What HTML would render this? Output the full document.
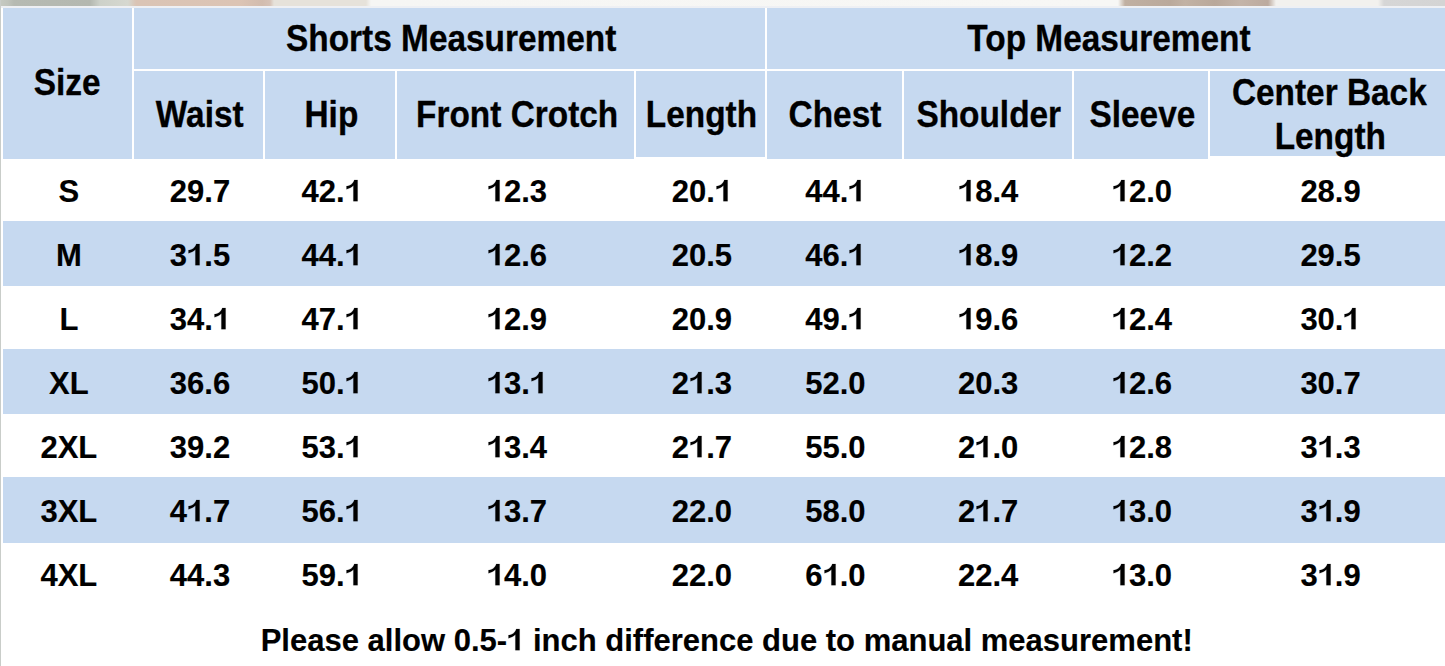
<!DOCTYPE html>
<html><head><meta charset="utf-8"><style>
html,body{margin:0;padding:0;}
body{position:relative;background:#fff;font-family:"Liberation Sans",sans-serif;font-weight:bold;color:#000;}
.r{position:absolute;}
.t{position:absolute;white-space:nowrap;line-height:1;}
.one{display:inline-block;width:0.55615em;height:0.73242em;vertical-align:baseline;fill:currentColor;overflow:visible;}
.bb,.bw{-webkit-text-stroke:0.15px #000;} .one path{stroke:#000;}
.hd{-webkit-text-stroke-width:0.3px;}
.one path{stroke-width:9.9;}
body{width:1445px;height:666px;overflow:hidden;}
.strip{position:absolute;left:0;top:0;width:1445px;height:6px;background:linear-gradient(90deg,#c6cac2 0px,#c0c4bc 8px,#b6bab2 14px,#b4b8b0 90px,#cdd1c9 100px,#d6d8d0 128px,#dac4b5 136px,#dcc4b4 240px,#d2bcae 262px,#d6c2b6 270px,#e6e2da 274px,#e6e2da 366px,#f6f6f4 371px,#f7f7f5 1118px,#c0b0a2 1125px,#baa99b 1170px,#c2b2a4 1185px,#b9a89a 1215px,#c4b4a8 1240px,#bcaa9e 1268px,#f2f1ee 1276px,#f2f1ee 1378px,#d6d6d6 1384px,#d4d4d4 1445px);}
.lft{position:absolute;left:0;top:0;width:1px;height:666px;background:#c9cdc9;}
#wrap{position:absolute;left:0;top:0;width:1445px;height:666px;overflow:hidden;background:#fff;}
</style></head><body><div id="wrap">
<div class="strip"></div>
<div class="r" style="left:0;top:6px;width:1445px;height:2px;background:#eef0f4"></div>
<div class="lft"></div>
<div class="r" style="left:3px;top:8px;width:129px;height:151px;background:#c6d9f0"></div>
<div class="r" style="left:134px;top:8px;width:631px;height:61px;background:#c6d9f0"></div>
<div class="r" style="left:767px;top:8px;width:678px;height:61px;background:#c6d9f0"></div>
<div class="r" style="left:134px;top:71px;width:129px;height:88px;background:#c6d9f0"></div>
<div class="r" style="left:265px;top:71px;width:130px;height:88px;background:#c6d9f0"></div>
<div class="r" style="left:397px;top:71px;width:237px;height:88px;background:#c6d9f0"></div>
<div class="r" style="left:636px;top:71px;width:129px;height:86px;background:#c6d9f0"></div>
<div class="r" style="left:767px;top:71px;width:135px;height:88px;background:#c6d9f0"></div>
<div class="r" style="left:904px;top:71px;width:168px;height:88px;background:#c6d9f0"></div>
<div class="r" style="left:1074px;top:71px;width:134px;height:88px;background:#c6d9f0"></div>
<div class="r" style="left:1210px;top:71px;width:235px;height:85px;background:#c6d9f0"></div>
<div class="r" style="left:3px;top:221px;width:1442px;height:65px;background:#c6d9f0"></div>
<div class="r" style="left:3px;top:349px;width:1442px;height:65px;background:#c6d9f0"></div>
<div class="r" style="left:3px;top:477px;width:1442px;height:66px;background:#c6d9f0"></div>
<div class="t bb hd" style="left:33.65px;top:66px;font-size:33.4px;transform:scaleY(1.09);transform-origin:33.5px 16.0px;">Size</div>
<div class="t bb hd" style="left:286.05px;top:22px;font-size:33.4px;transform:scaleY(1.09);transform-origin:165.5px 16.0px;">Shorts Measurement</div>
<div class="t bb hd" style="left:967.35px;top:22px;font-size:33.4px;transform:scaleY(1.09);transform-origin:141.5px 16.0px;">Top Measurement</div>
<div class="t bb hd" style="left:155.8px;top:98px;font-size:33.4px;transform:scaleY(1.09);transform-origin:44.0px 16.0px;">Waist</div>
<div class="t bb hd" style="left:304.5px;top:98px;font-size:33.4px;transform:scaleY(1.09);transform-origin:27.5px 16.0px;">Hip</div>
<div class="t bb hd" style="left:416.05px;top:98px;font-size:33.4px;transform:scaleY(1.09);transform-origin:101.0px 16.0px;">Front Crotch</div>
<div class="t bb hd" style="left:645.85px;top:98px;font-size:33.4px;transform:scaleY(1.09);transform-origin:55.5px 16.0px;">Length</div>
<div class="t bb hd" style="left:788.55px;top:98px;font-size:33.4px;transform:scaleY(1.09);transform-origin:47.0px 16.0px;">Chest</div>
<div class="t bb hd" style="left:916.4px;top:98px;font-size:33.4px;transform:scaleY(1.09);transform-origin:72.5px 16.0px;">Shoulder</div>
<div class="t bb hd" style="left:1089.5px;top:98px;font-size:33.4px;transform:scaleY(1.09);transform-origin:53.0px 16.0px;">Sleeve</div>
<div class="t bb hd" style="left:1231.9px;top:76px;font-size:33.4px;transform:scaleY(1.09);transform-origin:98.0px 16.0px;">Center Back</div>
<div class="t bb hd" style="left:1274.65px;top:120px;font-size:33.4px;transform:scaleY(1.09);transform-origin:55.5px 16.0px;">Length</div>
<div class="t bw" style="left:58.53px;top:176px;font-size:31px">S</div>
<div class="t bw" style="left:169.82px;top:176px;font-size:31px">29.7</div>
<div class="t bw" style="left:301.5px;top:176px;font-size:31px">42.<svg class="one" viewBox="0 0 1139 1500"><path transform="translate(0 1500) scale(1 -1)" d="M553 30L834 30L834 1440L612 1440C580 1330 520 1235 430 1160C340 1090 230 1050 100 1030L100 815C300 865 450 960 553 1065Z"/></svg></div>
<div class="t bw" style="left:486.75px;top:176px;font-size:31px"><svg class="one" viewBox="0 0 1139 1500"><path transform="translate(0 1500) scale(1 -1)" d="M553 30L834 30L834 1440L612 1440C580 1330 520 1235 430 1160C340 1090 230 1050 100 1030L100 815C300 865 450 960 553 1065Z"/></svg>2.3</div>
<div class="t bw" style="left:671.67px;top:176px;font-size:31px">20.<svg class="one" viewBox="0 0 1139 1500"><path transform="translate(0 1500) scale(1 -1)" d="M553 30L834 30L834 1440L612 1440C580 1330 520 1235 430 1160C340 1090 230 1050 100 1030L100 815C300 865 450 960 553 1065Z"/></svg></div>
<div class="t bw" style="left:805.25px;top:176px;font-size:31px">44.<svg class="one" viewBox="0 0 1139 1500"><path transform="translate(0 1500) scale(1 -1)" d="M553 30L834 30L834 1440L612 1440C580 1330 520 1235 430 1160C340 1090 230 1050 100 1030L100 815C300 865 450 960 553 1065Z"/></svg></div>
<div class="t bw" style="left:958.0px;top:176px;font-size:31px"><svg class="one" viewBox="0 0 1139 1500"><path transform="translate(0 1500) scale(1 -1)" d="M553 30L834 30L834 1440L612 1440C580 1330 520 1235 430 1160C340 1090 230 1050 100 1030L100 815C300 865 450 960 553 1065Z"/></svg>8.4</div>
<div class="t bw" style="left:1111.7px;top:176px;font-size:31px"><svg class="one" viewBox="0 0 1139 1500"><path transform="translate(0 1500) scale(1 -1)" d="M553 30L834 30L834 1440L612 1440C580 1330 520 1235 430 1160C340 1090 230 1050 100 1030L100 815C300 865 450 960 553 1065Z"/></svg>2.0</div>
<div class="t bw" style="left:1300.38px;top:176px;font-size:31px">28.9</div>
<div class="t bb" style="left:55.96px;top:240px;font-size:31px">M</div>
<div class="t bb" style="left:169.82px;top:240px;font-size:31px">3<svg class="one" viewBox="0 0 1139 1500"><path transform="translate(0 1500) scale(1 -1)" d="M553 30L834 30L834 1440L612 1440C580 1330 520 1235 430 1160C340 1090 230 1050 100 1030L100 815C300 865 450 960 553 1065Z"/></svg>.5</div>
<div class="t bb" style="left:301.5px;top:240px;font-size:31px">44.<svg class="one" viewBox="0 0 1139 1500"><path transform="translate(0 1500) scale(1 -1)" d="M553 30L834 30L834 1440L612 1440C580 1330 520 1235 430 1160C340 1090 230 1050 100 1030L100 815C300 865 450 960 553 1065Z"/></svg></div>
<div class="t bb" style="left:486.75px;top:240px;font-size:31px"><svg class="one" viewBox="0 0 1139 1500"><path transform="translate(0 1500) scale(1 -1)" d="M553 30L834 30L834 1440L612 1440C580 1330 520 1235 430 1160C340 1090 230 1050 100 1030L100 815C300 865 450 960 553 1065Z"/></svg>2.6</div>
<div class="t bb" style="left:671.67px;top:240px;font-size:31px">20.5</div>
<div class="t bb" style="left:805.25px;top:240px;font-size:31px">46.<svg class="one" viewBox="0 0 1139 1500"><path transform="translate(0 1500) scale(1 -1)" d="M553 30L834 30L834 1440L612 1440C580 1330 520 1235 430 1160C340 1090 230 1050 100 1030L100 815C300 865 450 960 553 1065Z"/></svg></div>
<div class="t bb" style="left:958.0px;top:240px;font-size:31px"><svg class="one" viewBox="0 0 1139 1500"><path transform="translate(0 1500) scale(1 -1)" d="M553 30L834 30L834 1440L612 1440C580 1330 520 1235 430 1160C340 1090 230 1050 100 1030L100 815C300 865 450 960 553 1065Z"/></svg>8.9</div>
<div class="t bb" style="left:1111.7px;top:240px;font-size:31px"><svg class="one" viewBox="0 0 1139 1500"><path transform="translate(0 1500) scale(1 -1)" d="M553 30L834 30L834 1440L612 1440C580 1330 520 1235 430 1160C340 1090 230 1050 100 1030L100 815C300 865 450 960 553 1065Z"/></svg>2.2</div>
<div class="t bb" style="left:1300.38px;top:240px;font-size:31px">29.5</div>
<div class="t bw" style="left:59.4px;top:304px;font-size:31px">L</div>
<div class="t bw" style="left:169.82px;top:304px;font-size:31px">34.<svg class="one" viewBox="0 0 1139 1500"><path transform="translate(0 1500) scale(1 -1)" d="M553 30L834 30L834 1440L612 1440C580 1330 520 1235 430 1160C340 1090 230 1050 100 1030L100 815C300 865 450 960 553 1065Z"/></svg></div>
<div class="t bw" style="left:301.5px;top:304px;font-size:31px">47.<svg class="one" viewBox="0 0 1139 1500"><path transform="translate(0 1500) scale(1 -1)" d="M553 30L834 30L834 1440L612 1440C580 1330 520 1235 430 1160C340 1090 230 1050 100 1030L100 815C300 865 450 960 553 1065Z"/></svg></div>
<div class="t bw" style="left:486.75px;top:304px;font-size:31px"><svg class="one" viewBox="0 0 1139 1500"><path transform="translate(0 1500) scale(1 -1)" d="M553 30L834 30L834 1440L612 1440C580 1330 520 1235 430 1160C340 1090 230 1050 100 1030L100 815C300 865 450 960 553 1065Z"/></svg>2.9</div>
<div class="t bw" style="left:671.67px;top:304px;font-size:31px">20.9</div>
<div class="t bw" style="left:805.25px;top:304px;font-size:31px">49.<svg class="one" viewBox="0 0 1139 1500"><path transform="translate(0 1500) scale(1 -1)" d="M553 30L834 30L834 1440L612 1440C580 1330 520 1235 430 1160C340 1090 230 1050 100 1030L100 815C300 865 450 960 553 1065Z"/></svg></div>
<div class="t bw" style="left:958.0px;top:304px;font-size:31px"><svg class="one" viewBox="0 0 1139 1500"><path transform="translate(0 1500) scale(1 -1)" d="M553 30L834 30L834 1440L612 1440C580 1330 520 1235 430 1160C340 1090 230 1050 100 1030L100 815C300 865 450 960 553 1065Z"/></svg>9.6</div>
<div class="t bw" style="left:1111.7px;top:304px;font-size:31px"><svg class="one" viewBox="0 0 1139 1500"><path transform="translate(0 1500) scale(1 -1)" d="M553 30L834 30L834 1440L612 1440C580 1330 520 1235 430 1160C340 1090 230 1050 100 1030L100 815C300 865 450 960 553 1065Z"/></svg>2.4</div>
<div class="t bw" style="left:1300.38px;top:304px;font-size:31px">30.<svg class="one" viewBox="0 0 1139 1500"><path transform="translate(0 1500) scale(1 -1)" d="M553 30L834 30L834 1440L612 1440C580 1330 520 1235 430 1160C340 1090 230 1050 100 1030L100 815C300 865 450 960 553 1065Z"/></svg></div>
<div class="t bb" style="left:49.06px;top:368px;font-size:31px">XL</div>
<div class="t bb" style="left:169.82px;top:368px;font-size:31px">36.6</div>
<div class="t bb" style="left:301.5px;top:368px;font-size:31px">50.<svg class="one" viewBox="0 0 1139 1500"><path transform="translate(0 1500) scale(1 -1)" d="M553 30L834 30L834 1440L612 1440C580 1330 520 1235 430 1160C340 1090 230 1050 100 1030L100 815C300 865 450 960 553 1065Z"/></svg></div>
<div class="t bb" style="left:486.76px;top:368px;font-size:31px"><svg class="one" viewBox="0 0 1139 1500"><path transform="translate(0 1500) scale(1 -1)" d="M553 30L834 30L834 1440L612 1440C580 1330 520 1235 430 1160C340 1090 230 1050 100 1030L100 815C300 865 450 960 553 1065Z"/></svg>3.<svg class="one" viewBox="0 0 1139 1500"><path transform="translate(0 1500) scale(1 -1)" d="M553 30L834 30L834 1440L612 1440C580 1330 520 1235 430 1160C340 1090 230 1050 100 1030L100 815C300 865 450 960 553 1065Z"/></svg></div>
<div class="t bb" style="left:671.67px;top:368px;font-size:31px">2<svg class="one" viewBox="0 0 1139 1500"><path transform="translate(0 1500) scale(1 -1)" d="M553 30L834 30L834 1440L612 1440C580 1330 520 1235 430 1160C340 1090 230 1050 100 1030L100 815C300 865 450 960 553 1065Z"/></svg>.3</div>
<div class="t bb" style="left:805.25px;top:368px;font-size:31px">52.0</div>
<div class="t bb" style="left:958.0px;top:368px;font-size:31px">20.3</div>
<div class="t bb" style="left:1111.7px;top:368px;font-size:31px"><svg class="one" viewBox="0 0 1139 1500"><path transform="translate(0 1500) scale(1 -1)" d="M553 30L834 30L834 1440L612 1440C580 1330 520 1235 430 1160C340 1090 230 1050 100 1030L100 815C300 865 450 960 553 1065Z"/></svg>2.6</div>
<div class="t bb" style="left:1300.38px;top:368px;font-size:31px">30.7</div>
<div class="t bw" style="left:40.44px;top:432px;font-size:31px">2XL</div>
<div class="t bw" style="left:169.82px;top:432px;font-size:31px">39.2</div>
<div class="t bw" style="left:301.5px;top:432px;font-size:31px">53.<svg class="one" viewBox="0 0 1139 1500"><path transform="translate(0 1500) scale(1 -1)" d="M553 30L834 30L834 1440L612 1440C580 1330 520 1235 430 1160C340 1090 230 1050 100 1030L100 815C300 865 450 960 553 1065Z"/></svg></div>
<div class="t bw" style="left:486.75px;top:432px;font-size:31px"><svg class="one" viewBox="0 0 1139 1500"><path transform="translate(0 1500) scale(1 -1)" d="M553 30L834 30L834 1440L612 1440C580 1330 520 1235 430 1160C340 1090 230 1050 100 1030L100 815C300 865 450 960 553 1065Z"/></svg>3.4</div>
<div class="t bw" style="left:671.67px;top:432px;font-size:31px">2<svg class="one" viewBox="0 0 1139 1500"><path transform="translate(0 1500) scale(1 -1)" d="M553 30L834 30L834 1440L612 1440C580 1330 520 1235 430 1160C340 1090 230 1050 100 1030L100 815C300 865 450 960 553 1065Z"/></svg>.7</div>
<div class="t bw" style="left:805.25px;top:432px;font-size:31px">55.0</div>
<div class="t bw" style="left:958.0px;top:432px;font-size:31px">2<svg class="one" viewBox="0 0 1139 1500"><path transform="translate(0 1500) scale(1 -1)" d="M553 30L834 30L834 1440L612 1440C580 1330 520 1235 430 1160C340 1090 230 1050 100 1030L100 815C300 865 450 960 553 1065Z"/></svg>.0</div>
<div class="t bw" style="left:1111.7px;top:432px;font-size:31px"><svg class="one" viewBox="0 0 1139 1500"><path transform="translate(0 1500) scale(1 -1)" d="M553 30L834 30L834 1440L612 1440C580 1330 520 1235 430 1160C340 1090 230 1050 100 1030L100 815C300 865 450 960 553 1065Z"/></svg>2.8</div>
<div class="t bw" style="left:1300.38px;top:432px;font-size:31px">3<svg class="one" viewBox="0 0 1139 1500"><path transform="translate(0 1500) scale(1 -1)" d="M553 30L834 30L834 1440L612 1440C580 1330 520 1235 430 1160C340 1090 230 1050 100 1030L100 815C300 865 450 960 553 1065Z"/></svg>.3</div>
<div class="t bb" style="left:40.44px;top:496px;font-size:31px">3XL</div>
<div class="t bb" style="left:169.82px;top:496px;font-size:31px">4<svg class="one" viewBox="0 0 1139 1500"><path transform="translate(0 1500) scale(1 -1)" d="M553 30L834 30L834 1440L612 1440C580 1330 520 1235 430 1160C340 1090 230 1050 100 1030L100 815C300 865 450 960 553 1065Z"/></svg>.7</div>
<div class="t bb" style="left:301.5px;top:496px;font-size:31px">56.<svg class="one" viewBox="0 0 1139 1500"><path transform="translate(0 1500) scale(1 -1)" d="M553 30L834 30L834 1440L612 1440C580 1330 520 1235 430 1160C340 1090 230 1050 100 1030L100 815C300 865 450 960 553 1065Z"/></svg></div>
<div class="t bb" style="left:486.75px;top:496px;font-size:31px"><svg class="one" viewBox="0 0 1139 1500"><path transform="translate(0 1500) scale(1 -1)" d="M553 30L834 30L834 1440L612 1440C580 1330 520 1235 430 1160C340 1090 230 1050 100 1030L100 815C300 865 450 960 553 1065Z"/></svg>3.7</div>
<div class="t bb" style="left:671.67px;top:496px;font-size:31px">22.0</div>
<div class="t bb" style="left:805.25px;top:496px;font-size:31px">58.0</div>
<div class="t bb" style="left:958.0px;top:496px;font-size:31px">2<svg class="one" viewBox="0 0 1139 1500"><path transform="translate(0 1500) scale(1 -1)" d="M553 30L834 30L834 1440L612 1440C580 1330 520 1235 430 1160C340 1090 230 1050 100 1030L100 815C300 865 450 960 553 1065Z"/></svg>.7</div>
<div class="t bb" style="left:1111.7px;top:496px;font-size:31px"><svg class="one" viewBox="0 0 1139 1500"><path transform="translate(0 1500) scale(1 -1)" d="M553 30L834 30L834 1440L612 1440C580 1330 520 1235 430 1160C340 1090 230 1050 100 1030L100 815C300 865 450 960 553 1065Z"/></svg>3.0</div>
<div class="t bb" style="left:1300.38px;top:496px;font-size:31px">3<svg class="one" viewBox="0 0 1139 1500"><path transform="translate(0 1500) scale(1 -1)" d="M553 30L834 30L834 1440L612 1440C580 1330 520 1235 430 1160C340 1090 230 1050 100 1030L100 815C300 865 450 960 553 1065Z"/></svg>.9</div>
<div class="t bw" style="left:40.44px;top:560px;font-size:31px">4XL</div>
<div class="t bw" style="left:169.82px;top:560px;font-size:31px">44.3</div>
<div class="t bw" style="left:301.5px;top:560px;font-size:31px">59.<svg class="one" viewBox="0 0 1139 1500"><path transform="translate(0 1500) scale(1 -1)" d="M553 30L834 30L834 1440L612 1440C580 1330 520 1235 430 1160C340 1090 230 1050 100 1030L100 815C300 865 450 960 553 1065Z"/></svg></div>
<div class="t bw" style="left:486.75px;top:560px;font-size:31px"><svg class="one" viewBox="0 0 1139 1500"><path transform="translate(0 1500) scale(1 -1)" d="M553 30L834 30L834 1440L612 1440C580 1330 520 1235 430 1160C340 1090 230 1050 100 1030L100 815C300 865 450 960 553 1065Z"/></svg>4.0</div>
<div class="t bw" style="left:671.67px;top:560px;font-size:31px">22.0</div>
<div class="t bw" style="left:805.25px;top:560px;font-size:31px">6<svg class="one" viewBox="0 0 1139 1500"><path transform="translate(0 1500) scale(1 -1)" d="M553 30L834 30L834 1440L612 1440C580 1330 520 1235 430 1160C340 1090 230 1050 100 1030L100 815C300 865 450 960 553 1065Z"/></svg>.0</div>
<div class="t bw" style="left:958.0px;top:560px;font-size:31px">22.4</div>
<div class="t bw" style="left:1111.7px;top:560px;font-size:31px"><svg class="one" viewBox="0 0 1139 1500"><path transform="translate(0 1500) scale(1 -1)" d="M553 30L834 30L834 1440L612 1440C580 1330 520 1235 430 1160C340 1090 230 1050 100 1030L100 815C300 865 450 960 553 1065Z"/></svg>3.0</div>
<div class="t bw" style="left:1300.38px;top:560px;font-size:31px">3<svg class="one" viewBox="0 0 1139 1500"><path transform="translate(0 1500) scale(1 -1)" d="M553 30L834 30L834 1440L612 1440C580 1330 520 1235 430 1160C340 1090 230 1050 100 1030L100 815C300 865 450 960 553 1065Z"/></svg>.9</div>
<div class="t bw" style="left:260.7px;top:625px;font-size:31px;">Please allow 0.5-<svg class="one" viewBox="0 0 1139 1500"><path transform="translate(0 1500) scale(1 -1)" d="M553 30L834 30L834 1440L612 1440C580 1330 520 1235 430 1160C340 1090 230 1050 100 1030L100 815C300 865 450 960 553 1065Z"/></svg> inch difference due to manual measurement!</div>
</div></body></html>
